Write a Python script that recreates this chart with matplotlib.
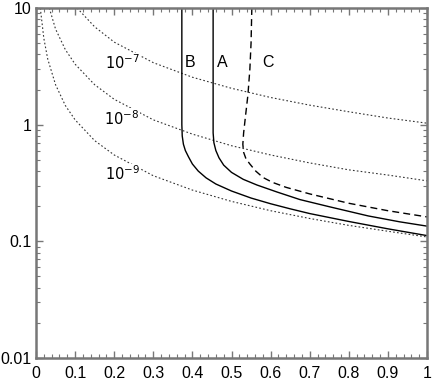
import matplotlib
matplotlib.use('Agg')
import matplotlib.pyplot as plt
from matplotlib.ticker import MultipleLocator, LogLocator, FixedLocator, FixedFormatter

plt.rcParams['font.family'] = ['Liberation Sans', 'DejaVu Sans']

# ---- dotted iso-curves ----
x_e7 = [0.105, 0.15, 0.2, 0.3, 0.4, 0.5, 0.6, 0.7, 0.8, 0.9, 1.0]
y_e7 = [10, 6.9, 5.1, 3.4, 2.55, 2.05, 1.71, 1.47, 1.29, 1.14, 1.03]

x_e8 = [0.034, 0.05, 0.075, 0.1, 0.15, 0.2, 0.3, 0.4, 0.5, 0.6, 0.7, 0.8, 0.9, 1.0]
y_e8 = [10, 6.6, 4.4, 3.3, 2.2, 1.65, 1.1, 0.83, 0.66, 0.55, 0.47, 0.41, 0.37, 0.33]

x_e9 = [0.011, 0.02, 0.03, 0.05, 0.075, 0.1, 0.15, 0.2, 0.3, 0.4, 0.5, 0.6,
        0.7, 0.8, 0.9, 1.0]
y_e9 = [10, 5.5, 3.65, 2.2, 1.46, 1.1, 0.73, 0.55, 0.365, 0.275, 0.22, 0.183,
        0.157, 0.137, 0.122, 0.109]

# ---- curves A, B (solid) and C (dashed) ----
x_b = [0.373, 0.373, 0.374, 0.377, 0.382, 0.39, 0.40, 0.415, 0.435, 0.46,
       0.5, 0.55, 0.6, 0.65, 0.7, 0.8, 0.9, 1.0]
y_b = [10, 1.0, 0.8, 0.68, 0.6, 0.53, 0.46, 0.40, 0.35, 0.31,
       0.27, 0.235, 0.21, 0.19, 0.173, 0.148, 0.128, 0.112]

x_a = [0.453, 0.453, 0.455, 0.46, 0.468, 0.48, 0.5, 0.53, 0.565, 0.616,
       0.675, 0.75, 0.85, 0.93, 1.0]
y_a = [10, 0.85, 0.7, 0.6, 0.52, 0.45, 0.39, 0.34, 0.304, 0.265,
       0.228, 0.198, 0.165, 0.147, 0.135]

x_c = [0.552, 0.55, 0.547, 0.542, 0.536, 0.531, 0.529, 0.531, 0.537, 0.547,
       0.562, 0.581, 0.605, 0.64, 0.7, 0.8, 0.9, 1.0]
y_c = [10, 5, 3.0, 1.8, 1.2, 0.85, 0.68, 0.58, 0.51, 0.46,
       0.40, 0.352, 0.32, 0.29, 0.255, 0.212, 0.183, 0.162]

iso_labels = ['$10^{-7}$', '$10^{-8}$', '$10^{-9}$']
iso_label_pos = [(0.265, 3.4), (0.265, 1.13), (0.265, 0.38)]
curve_labels = ['B', 'A', 'C']
curve_label_pos = [(0.394, 3.44), (0.476, 3.44), (0.593, 3.44)]

x_ticks = [0, 0.1, 0.2, 0.3, 0.4, 0.5, 0.6, 0.7, 0.8, 0.9, 1]
x_ticklabels = ['0', '0.1', '0.2', '0.3', '0.4', '0.5', '0.6', '0.7', '0.8', '0.9', '1']
y_ticks = [0.01, 0.1, 1, 10]
y_ticklabels = ['0.01', '0.1', '1', '10']

fig = plt.figure(figsize=(4.36, 3.82), dpi=100)
ax = fig.add_axes([36 / 436, 1 - 358 / 382, 391 / 436, 350 / 382])

dot = (0, (1.5, 2.0))
for xs, ys in [(x_e7, y_e7), (x_e8, y_e8), (x_e9, y_e9)]:
    ax.plot(xs, ys, color='#333333', lw=0.8, ls=dot)

ax.plot(x_b, y_b, color='black', lw=1.0)
ax.plot(x_a, y_a, color='black', lw=1.0)
ax.plot(x_c, y_c, color='black', lw=1.0, ls=(0, (5, 3)))

for txt, (tx, ty) in zip(iso_labels, iso_label_pos):
    ax.text(tx, ty, txt, fontsize=10.5, ha='right', va='center',
            bbox=dict(facecolor='white', edgecolor='none', pad=0.5))
for txt, (tx, ty) in zip(curve_labels, curve_label_pos):
    ax.text(tx, ty, txt, fontsize=11.5, ha='center', va='center')

ax.set_yscale('log')
ax.set_xlim(0, 1)
ax.set_ylim(0.01, 10)

ax.xaxis.set_major_locator(FixedLocator(x_ticks))
ax.xaxis.set_major_formatter(FixedFormatter(x_ticklabels))
ax.xaxis.set_minor_locator(MultipleLocator(0.02))
ax.yaxis.set_major_locator(FixedLocator(y_ticks))
ax.yaxis.set_major_formatter(FixedFormatter(y_ticklabels))
ax.yaxis.set_minor_locator(LogLocator(base=10, subs=range(2, 10)))

ax.tick_params(which='both', direction='in', top=True, right=True,
               color='#777777', labelsize=11.5)
ax.tick_params(which='major', length=5, width=1)
ax.tick_params(which='minor', length=3, width=0.8)
ax.tick_params(axis='x', pad=6)
ax.tick_params(axis='y', pad=3)
for s in ax.spines.values():
    s.set_color('#777777')
    s.set_linewidth(1.8)

fig.savefig('out.png', dpi=100)
